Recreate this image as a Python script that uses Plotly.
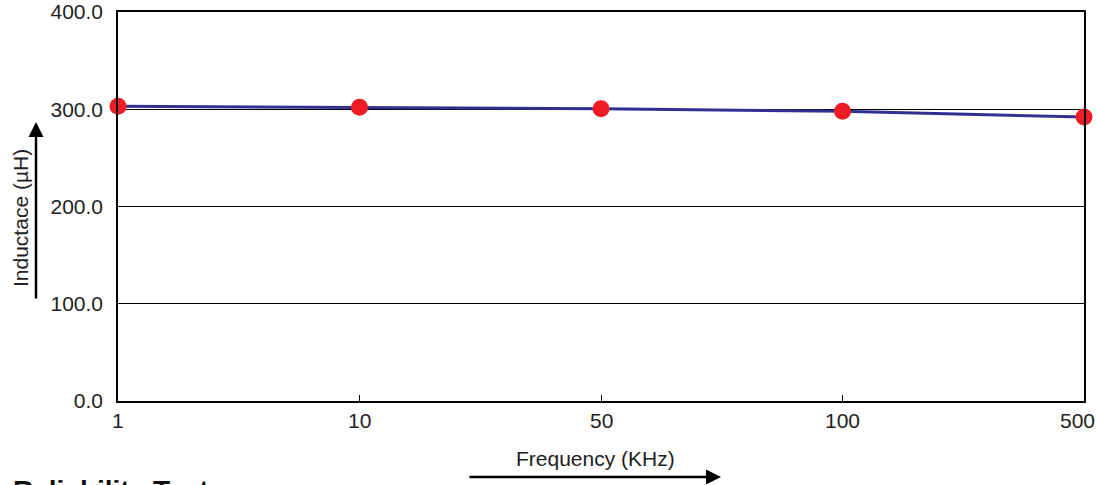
import plotly.graph_objects as go

freq_labels = ["1", "10", "50", "100", "500"]
inductance = [303.0, 302.0, 300.5, 298.0, 292.0]
y_ticks = [0, 100, 200, 300, 400]
y_tick_labels = ["0.0", "100.0", "200.0", "300.0", "400.0"]

W, H = 1096, 485
L, R, T, B = 118, 12, 12, 84
pw, ph = W - L - R, H - T - B

def px(x):
    return (x - L) / pw

def py(y):
    return (H - B - y) / ph

font = "Liberation Sans, Arial, sans-serif"

fig = go.Figure()
fig.add_trace(go.Scatter(
    x=list(range(len(freq_labels))), y=inductance, mode="lines+markers",
    line=dict(color="#2E3192", width=3),
    marker=dict(color="#EE1C25", size=17),
    cliponaxis=False, showlegend=False,
))

fig.update_layout(
    width=W, height=H, autosize=False,
    margin=dict(l=L, r=R, t=T, b=B, pad=0),
    paper_bgcolor="white", plot_bgcolor="white",
    font=dict(family=font, size=21, color="#222"),
    xaxis=dict(
        type="linear", range=[0, len(freq_labels) - 1], showgrid=False,
        tickvals=list(range(len(freq_labels))),
        showline=True, linecolor="black", linewidth=1.5, mirror=True,
        ticks="inside", ticklen=6, tickcolor="black",
        showticklabels=False, automargin=False, zeroline=False,
    ),
    yaxis=dict(
        range=[0, 400], tickvals=y_ticks, ticktext=y_tick_labels,
        showgrid=True, gridcolor="black", gridwidth=1.2,
        showline=True, linecolor="black", linewidth=1.5, mirror=True,
        ticks="", tickfont=dict(size=21, color="#222"),
        ticklabelstandoff=9,
        zeroline=False, automargin=False,
    ),
)

# x tick labels (category labels from data)
for i, lab in enumerate(freq_labels):
    fig.add_annotation(
        text=lab, xref="x", yref="paper", x=i, y=py(420),
        xanchor="center", yanchor="middle", showarrow=False,
        xshift=-7 if i == len(freq_labels) - 1 else 0,
        font=dict(size=21, color="#222", family=font),
    )

fig.add_annotation(
    text="Inductace (µH)", textangle=-90, xref="paper", yref="paper",
    x=px(20), y=py(218), xanchor="center", yanchor="middle", showarrow=False,
    font=dict(size=21, color="#222", family=font),
)
fig.add_annotation(
    text="", xref="paper", yref="paper", x=px(36), y=py(122),
    ax=0, ay=178, showarrow=True, arrowhead=2, arrowsize=1.2,
    arrowwidth=2.5, arrowcolor="black",
)
fig.add_annotation(
    text="Frequency (KHz)", xref="paper", yref="paper",
    x=px(595), y=py(458), xanchor="center", yanchor="middle", showarrow=False,
    font=dict(size=21, color="#222", family=font),
)
fig.add_annotation(
    text="", xref="paper", yref="paper", x=px(721), y=py(477),
    ax=-253, ay=0, showarrow=True, arrowhead=2, arrowsize=1.2,
    arrowwidth=2.5, arrowcolor="black",
)
fig.add_annotation(
    text="<b>Reliability Test</b>", xref="paper", yref="paper",
    x=px(11), y=py(473), xanchor="left", yanchor="top", showarrow=False,
    font=dict(size=28, color="#111", family=font),
)

fig.write_html(
    "out.html",
    config={"displayModeBar": False},
    post_script="document.body.style.margin='0';document.body.style.overflow='hidden';",
)
